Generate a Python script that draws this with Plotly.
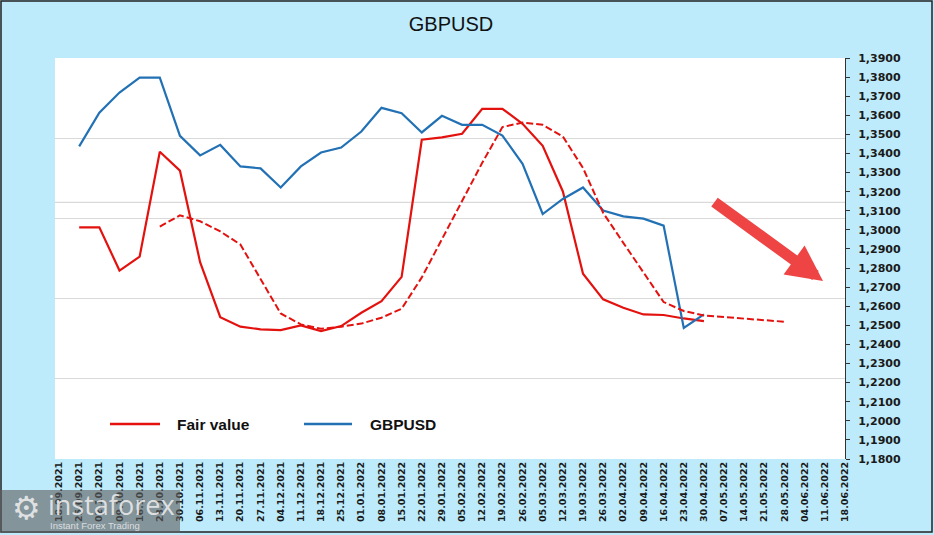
import plotly.graph_objects as go

dates = ["18.09.2021", "25.09.2021", "02.10.2021", "09.10.2021", "16.10.2021",
         "23.10.2021", "30.10.2021", "06.11.2021", "13.11.2021", "20.11.2021",
         "27.11.2021", "04.12.2021", "11.12.2021", "18.12.2021", "25.12.2021",
         "01.01.2022", "08.01.2022", "15.01.2022", "22.01.2022", "29.01.2022",
         "05.02.2022", "12.02.2022", "19.02.2022", "26.02.2022", "05.03.2022",
         "12.03.2022", "19.03.2022", "26.03.2022", "02.04.2022", "09.04.2022",
         "16.04.2022", "23.04.2022", "30.04.2022", "07.05.2022", "14.05.2022",
         "21.05.2022", "28.05.2022", "04.06.2022", "11.06.2022", "18.06.2022"]

gbpusd = [None, 1.3437, 1.3614, 1.3719, 1.3797, 1.3797, 1.3492, 1.3390, 1.3445,
          1.3332, 1.3322, 1.3222, 1.3332, 1.3405, 1.3431, 1.3515, 1.3639, 1.3611,
          1.3510, 1.3597, 1.3550, 1.3550, 1.3494, 1.3346, 1.3083, 1.3162, 1.3222,
          1.3101, 1.3071, 1.3059, 1.3022, 1.2486, 1.2557]

fair_value = [None, 1.3013, 1.3013, 1.2787, 1.2860, 1.3409, 1.3310, 1.2831, 1.2543,
              1.2493, 1.2479, 1.2475, 1.2500, 1.2470, 1.2496, 1.2566, 1.2627, 1.2754,
              1.3472, 1.3484, 1.3503, 1.3634, 1.3634, 1.3555, 1.3440, 1.3201, 1.2770,
              1.2636, 1.2592, 1.2557, 1.2554, 1.2536, 1.2522]

fair_value_trend = [None, None, None, None, None, 1.3017, 1.3076, 1.3045, 1.2992,
                    1.2923, 1.2740, 1.2562, 1.2505, 1.2482, 1.2493, 1.2509, 1.2540,
                    1.2587, 1.2751, 1.2949, 1.3153, 1.3351, 1.3538, 1.3562, 1.3550,
                    1.3489, 1.3324, 1.3089, 1.2932, 1.2775, 1.2622, 1.2575, 1.2552,
                    1.2543, 1.2535, 1.2526, 1.2519]

legend_names = ["Fair value", "GBPUSD"]

level_line = 1.3144

RED = "#e3120f"
BLUE = "#2271b5"
BG = "#bdebfb"

# plot area in pixels
W, H = 934, 535
L, R, T, B = 55, 845, 58, 459


def px(x):
    return (x - L) / (R - L)


def py(y):
    return (B - y) / (B - T)


fig = go.Figure()

fig.add_trace(go.Scatter(
    x=dates[:len(fair_value)], y=fair_value, mode="lines", name=legend_names[0],
    line=dict(color=RED, width=2.2), showlegend=False))
fig.add_trace(go.Scatter(
    x=dates[:len(gbpusd)], y=gbpusd, mode="lines", name=legend_names[1],
    line=dict(color=BLUE, width=2.2), showlegend=False))
fig.add_trace(go.Scatter(
    x=dates[:len(fair_value_trend)], y=fair_value_trend, mode="lines",
    name="Fair value trend", showlegend=False,
    line=dict(color=RED, width=2, dash="7px,3px")))

# hidden axis that carries the chart's own horizontal gridlines
fig.add_trace(go.Scatter(x=[dates[0]], y=[None], yaxis="y2", showlegend=False,
                         hoverinfo="skip"))

shapes = [
    dict(type="line", xref="paper", yref="y", x0=0, x1=1, y0=level_line, y1=level_line,
         line=dict(color="#d9d9d9", width=1.3), layer="below"),
    # legend samples
    dict(type="line", xref="paper", yref="paper", x0=px(110), x1=px(160), y0=py(424), y1=py(424),
         line=dict(color=RED, width=2.4)),
    dict(type="line", xref="paper", yref="paper", x0=px(304), x1=px(352), y0=py(424), y1=py(424),
         line=dict(color=BLUE, width=2.4)),
    # outer frame
    dict(type="rect", xref="paper", yref="paper", x0=px(1), x1=px(932), y0=py(1), y1=py(532),
         line=dict(color="#222222", width=1.5), fillcolor="rgba(0,0,0,0)"),
    # watermark box
    dict(type="rect", xref="paper", yref="paper", x0=px(0), x1=px(180), y0=py(490), y1=py(533),
         line=dict(width=0), fillcolor="rgba(95,95,95,0.62)", layer="above"),
]

legend_font = dict(family="Liberation Sans", size=15.5, color="#111111", weight="bold")

annotations = [
    dict(xref="paper", yref="paper", x=px(175), y=py(424), xanchor="left", yanchor="middle",
         text=legend_names[0], showarrow=False, font=legend_font),
    dict(xref="paper", yref="paper", x=px(368), y=py(424), xanchor="left", yanchor="middle",
         text=legend_names[1], showarrow=False, font=legend_font),
    dict(xref="paper", yref="paper", x=px(823), y=py(281), ax=713 - 823, ay=201 - 281,
         showarrow=True, arrowhead=2, arrowsize=0.65, arrowwidth=11,
         arrowcolor="#ee4444", text=""),
    dict(xref="paper", yref="paper", x=px(46), y=py(504), xanchor="left", yanchor="middle",
         text="instaforex", showarrow=False,
         font=dict(family="Open Sans", size=27, color="rgba(235,235,235,0.9)")),
    dict(xref="paper", yref="paper", x=px(48), y=py(525), xanchor="left", yanchor="middle",
         text="Instant Forex Trading", showarrow=False,
         font=dict(family="Liberation Sans", size=9.5, color="rgba(235,235,235,0.85)")),
    dict(xref="paper", yref="paper", x=px(26), y=py(508), xanchor="center", yanchor="middle",
         text="⚙", showarrow=False,
         font=dict(family="DejaVu Sans", size=32, color="rgba(235,235,235,0.9)")),
]

fig.update_layout(
    width=W, height=H,
    margin=dict(l=L, r=W - R, t=T, b=H - B, pad=0),
    paper_bgcolor=BG, plot_bgcolor="white",
    separators=", ",
    title=dict(text="GBPUSD", x=px(451), xref="paper", xanchor="center",
               y=1 - 24 / H, yref="container", yanchor="middle",
               font=dict(family="Liberation Sans", size=20, color="#111111")),
    xaxis=dict(type="category", categoryorder="array", categoryarray=dates,
               range=[-0.2, len(dates) - 1], tickangle=-90, showgrid=False,
               ticks="", showline=False, zeroline=False,
               tickfont=dict(family="DejaVu Sans", size=9.5, color="#1a1a1a", weight="bold")),
    yaxis=dict(side="right", range=[1.18, 1.39], dtick=0.01, tickformat=".4f",
               showgrid=False, zeroline=False, showline=True, linecolor="#333333",
               linewidth=1, ticks="outside", ticklen=4, tickcolor="#333333",
               ticklabelstandoff=6,
               tickfont=dict(family="DejaVu Sans", size=11, color="#1a1a1a", weight="bold")),
    yaxis2=dict(overlaying="y", range=[0, 5], tickvals=[1, 2, 3, 4], showticklabels=False,
                showgrid=True, gridcolor="#d9d9d9", gridwidth=1.3, zeroline=False,
                showline=False, ticks=""),
    shapes=shapes, annotations=annotations, showlegend=False,
)

fig.write_html("out.html", config={"displayModeBar": False},
               post_script="document.body.style.margin='0';document.body.style.padding='0';"
                           "document.body.style.overflow='hidden';")
